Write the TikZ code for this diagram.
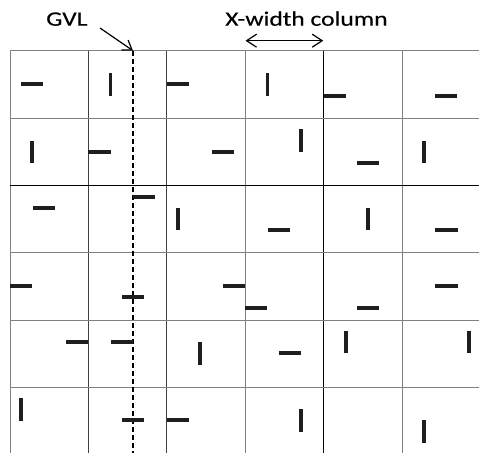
\documentclass[tikz,border=0pt]{standalone}
\usepackage{fontspec}
\setmainfont{Carlito}
\newfontfamily\lblfont{Carlito}[FakeBold=0.3]
\usetikzlibrary{arrows.meta}
\newcommand\HBar[2]{\fill[barcol] ({#1-11.2},{#2-1.85}) rectangle ({#1+11.2},{#2+1.85});}
\newcommand\VBar[2]{\fill[barcol] ({#1-1.85},{#2-11.3}) rectangle ({#1+1.85},{#2+11.3});}
\definecolor{barcol}{HTML}{1E1E1E}
\begin{document}
\begin{tikzpicture}[x=1pt,y=-1pt,
  gridg/.style={line width=1pt,draw=black!50},
  gridd/.style={line width=1pt,draw=black!75},
  gridk/.style={line width=1pt,draw=black},
  gvlline/.style={line width=1.3pt,dash pattern=on 5pt off 3pt},
  lbl/.style={font=\lblfont\fontsize{20.5}{24}\selectfont,xscale=1.245,inner sep=0pt,anchor=base west},
  barb/.style={line width=1.2pt}]
\useasboundingbox (0,0) rectangle (479,453);
% grid
\foreach \x/\s in {10/gridg,88.4/gridd,166.8/gridd,245.2/gridg,323.6/gridk,402/gridg}
  \draw[\s] (\x,50.7) -- (\x,453);
\foreach \y/\s in {50.7/gridg,118/gridg,185.3/gridk,252.6/gridg,320/gridg,387.3/gridg}
  \draw[\s] (10,\y) -- (479,\y);
% GVL dashed line
\coordinate (gvltop) at (133,50.7);
\coordinate (gvlbot) at (133,453);
\draw[gvlline] (gvltop) -- (gvlbot);
% labels
\node[lbl] (gvl) at (46,25.7) {GVL};
\node[lbl] (xw) at (225,25.7) {X-width column};
\coordinate (gvlstart) at (100,28);
\draw[barb,-{Straight Barb[length=9pt,width=12pt]}] (gvlstart) -- (gvltop);
\coordinate (xwl) at (245.5,40.7);
\coordinate (xwr) at (323.3,40.7);
\draw[barb,{Straight Barb[length=10pt,width=13pt]}-{Straight Barb[length=10pt,width=13pt]}] (xwl) -- (xwr);
% bars row 1
\HBar{32}{84.3} \VBar{110.5}{84.5} \HBar{178}{84.3} \VBar{267.5}{84.5} \HBar{335}{95.7} \HBar{446}{95.7}
% row 2
\VBar{32.3}{152} \HBar{99.5}{151.7} \HBar{222.8}{151.7} \VBar{301}{140.7} \HBar{368.2}{162.7} \VBar{424.3}{152}
% row 3
\HBar{43.7}{207.7} \HBar{144.2}{196.7} \VBar{177.7}{219} \HBar{278.7}{230} \VBar{368}{219} \HBar{446.5}{230}
% row 4
\HBar{21.2}{286} \HBar{133.2}{297} \HBar{233.8}{286} \HBar{256.2}{308.3} \HBar{368.2}{308.3} \HBar{446.5}{286}
% row 5
\HBar{77.2}{342} \HBar{122}{342} \VBar{200}{353.3} \HBar{289.8}{353.3} \VBar{345.7}{342} \VBar{469}{342}
% row 6
\VBar{21}{409.2} \HBar{133.2}{420.3} \HBar{177.8}{420.3} \VBar{301}{420.5} \VBar{424}{431.7}
\end{tikzpicture}
\end{document}
